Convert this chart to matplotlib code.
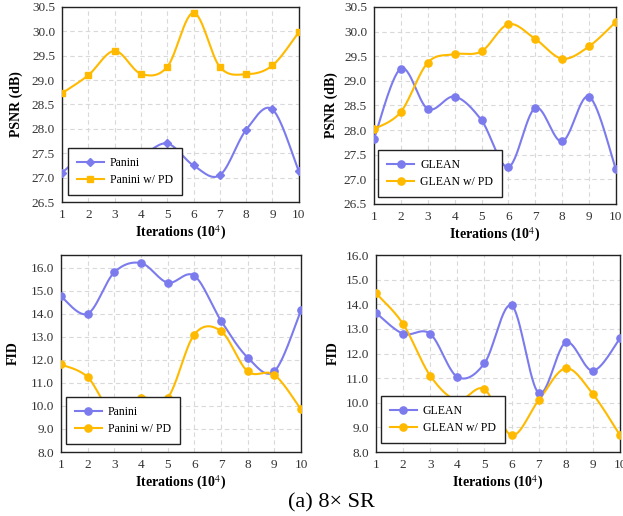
import numpy as np
import matplotlib
matplotlib.use("Agg")
import matplotlib.pyplot as plt

plt.rcParams["font.family"] = ["Liberation Serif", "DejaVu Serif"]
plt.rcParams["mathtext.fontset"] = "stix"

iterations = [1, 2, 3, 4, 5, 6, 7, 8, 9, 10]

# PSNR, Panini
psnr_panini = [27.10, 27.50, 27.35, 27.45, 27.70, 27.25, 27.05, 27.98, 28.40, 27.13]
psnr_panini_pd = [28.73, 29.10, 29.60, 29.13, 29.27, 30.38, 29.27, 29.12, 29.30, 29.98]
# PSNR, GLEAN
psnr_glean = [27.82, 29.25, 28.43, 28.68, 28.20, 27.25, 28.45, 27.77, 28.68, 27.20]
psnr_glean_pd = [28.02, 28.37, 29.37, 29.54, 29.60, 30.15, 29.85, 29.45, 29.70, 30.20]
# FID, Panini
fid_panini = [14.75, 14.00, 15.80, 16.20, 15.35, 15.65, 13.70, 12.10, 11.50, 14.15]
fid_panini_pd = [11.80, 11.25, 9.60, 10.35, 10.35, 13.10, 13.25, 11.50, 11.35, 9.85]
# FID, GLEAN
fid_glean = [13.65, 12.80, 12.80, 11.05, 11.60, 13.95, 10.40, 12.45, 11.30, 12.62]
fid_glean_pd = [14.45, 13.20, 11.10, 10.10, 10.55, 8.68, 10.10, 11.40, 10.35, 8.68]

BLUE = "#7B7BEE"
GOLD = "#FFBA00"


# Excel-like smoothed line (Catmull-Rom through the points)
def smooth(x, y, n=30):
    x = np.asarray(x, float)
    y = np.asarray(y, float)
    px = np.concatenate([[x[0]], x, [x[-1]]])
    py = np.concatenate([[y[0]], y, [y[-1]]])
    xs, ys = [], []
    t = np.linspace(0, 1, n)
    for i in range(1, len(px) - 2):
        p0, p1, p2, p3 = (np.array([px[j], py[j]]) for j in (i - 1, i, i + 1, i + 2))
        c1 = p1 + (p2 - p0) / 6
        c2 = p2 - (p3 - p1) / 6
        b = ((1 - t) ** 3)[:, None] * p1 + (3 * (1 - t) ** 2 * t)[:, None] * c1 \
            + (3 * (1 - t) * t ** 2)[:, None] * c2 + (t ** 3)[:, None] * p2
        xs.extend(b[:, 0])
        ys.extend(b[:, 1])
    return xs, ys


def draw(ax, a, b, labels, markers, ylim, yticks, ylabel, leg_anchor, ylabelpad=4):
    for vals, col, mk, lab in zip((a, b), (BLUE, GOLD), markers, labels):
        sx, sy = smooth(iterations, vals)
        ax.plot(sx, sy, color=col, lw=1.5, zorder=3)
        ms = {"D": 4.0, "s": 5.0, "o": 5.2}[mk]
        ax.plot(iterations, vals, linestyle="none", marker=mk, color=col, ms=ms, zorder=4)
        ax.plot([], [], color=col, lw=1.5, marker=mk, ms=ms, label=lab)
    ax.set_xlim(1, 10)
    ax.set_ylim(*ylim)
    ax.set_xticks(iterations)
    ax.set_yticks(yticks)
    ax.set_yticklabels(["%.1f" % v for v in yticks])
    ax.tick_params(labelsize=9.5, length=0, pad=5, colors="#333333")
    ax.grid(True, linestyle=(0, (4, 3)), color="#d9d9d9", lw=0.8)
    for s in ax.spines.values():
        s.set_color("#222222")
        s.set_linewidth(1.0)
    ax.set_xlabel("Iterations (10$^{4}$)", fontsize=10, fontweight="bold", labelpad=2)
    ax.set_ylabel(ylabel, fontsize=10, fontweight="bold", labelpad=ylabelpad)
    leg = ax.legend(loc="lower left", bbox_to_anchor=leg_anchor, borderaxespad=0,
                    fancybox=False, edgecolor="#222222", framealpha=1, fontsize=8.5,
                    handlelength=2.3, borderpad=0.75, labelspacing=0.45,
                    handletextpad=0.5)
    leg.get_frame().set_linewidth(1.0)
    leg.set_zorder(5)


fig = plt.figure(figsize=(6.23, 5.16), dpi=100)

ax1 = fig.add_axes([0.0995, 0.6085, 0.380, 0.378])
draw(ax1, psnr_panini, psnr_panini_pd, ["Panini", "Panini w/ PD"], ["D", "s"],
     (26.5, 30.5), np.arange(26.5, 30.51, 0.5), "PSNR (dB)", (0.025, 0.036),
     ylabelpad=6)

ax2 = fig.add_axes([0.6003, 0.6047, 0.3884, 0.3818])
draw(ax2, psnr_glean, psnr_glean_pd, ["GLEAN", "GLEAN w/ PD"], ["o", "o"],
     (26.5, 30.5), np.arange(26.5, 30.51, 0.5), "PSNR (dB)", (0.017, 0.036))

ax3 = fig.add_axes([0.0979, 0.124, 0.3852, 0.3818])
draw(ax3, fid_panini, fid_panini_pd, ["Panini", "Panini w/ PD"], ["o", "o"],
     (8.0, 16.55), np.arange(8.0, 16.01, 1.0), "FID", (0.02, 0.04), ylabelpad=8)

ax4 = fig.add_axes([0.6035, 0.124, 0.3917, 0.3818])
draw(ax4, fid_glean, fid_glean_pd, ["GLEAN", "GLEAN w/ PD"], ["o", "o"],
     (8.0, 16.0), np.arange(8.0, 16.01, 1.0), "FID", (0.02, 0.045))

fig.text(0.532, 0.025, "(a) 8× SR", ha="center", va="center", fontsize=16)

fig.savefig("out.png", dpi=100)
